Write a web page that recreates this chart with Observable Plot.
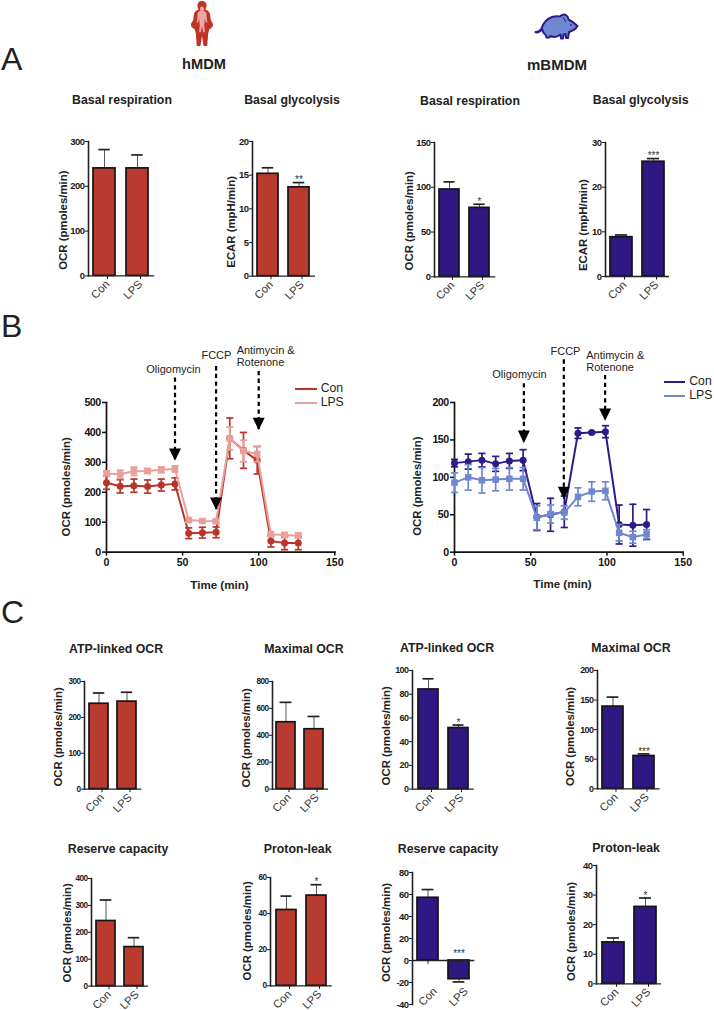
<!DOCTYPE html>
<html><head><meta charset="utf-8">
<script src="https://cdn.jsdelivr.net/npm/d3@7"></script>
<script src="https://cdn.jsdelivr.net/npm/@observablehq/plot@0.6"></script>
<style>
html,body{margin:0;padding:0;background:#fff}
#root{position:relative;width:714px;height:1010px;overflow:hidden;font-family:"Liberation Sans",Arial,sans-serif;color:#222;opacity:.999}
#root>svg{position:absolute;max-width:none}
.t{position:absolute;white-space:nowrap;transform:translate(-50%,-50%);font-weight:bold;line-height:1}
.letter{position:absolute;font-size:32px;line-height:1;transform:translateY(-50%);color:#222}
.lg{position:absolute;white-space:nowrap;font-size:12.2px;line-height:1;transform:translateY(-50%)}
.sw{position:absolute;height:1.7px}
g[aria-label="y-axis tick label"] text{letter-spacing:-.55px}
</style></head><body><div id="root"></div>
<script>
const categories = ["Con","LPS"];
const yLabelOCR = "OCR (pmoles/min)";
const yLabelECAR = "ECAR (mpH/min)";

// Panel A, human
const hRespVals=[240,240], hRespErr=[282,270], hRespStars=["",""];
const hGlyVals=[15.2,13.2], hGlyErr=[16.1,13.9], hGlyStars=["","**"];
// Panel A, mouse
const mRespVals=[97.5,77], mRespErr=[106,81], mRespStars=["","*"];
const mGlyVals=[8.8,25.7], mGlyErr=[9.3,26.4], mGlyStars=["","***"];
// Panel C, human
const hAtpVals=[238,244], hAtpErr=[268,270], hAtpStars=["",""];
const hMaxVals=[497,445], hMaxErr=[645,540], hMaxStars=["",""];
const hResVals=[242,145], hResErr=[320,180], hResStars=["",""];
const hLeakVals=[42,50], hLeakErr=[49.7,56], hLeakStars=["","*"];
// Panel C, mouse
const mAtpVals=[84,51.5], mAtpErr=[93,54], mAtpStars=["","*"];
const mMaxVals=[139,55.5], mMaxErr=[155,59], mMaxStars=["","***"];
const mResVals=[57,-17], mResErr=[64.5,-19.5], mResStars=["","***"], mResStarAt=[0,4];
const mLeakVals=[14,26], mLeakErr=[15.5,29], mLeakStars=["","*"];

// Panel B, time courses
const times=[0,9,18,27,36,45,54,63,72,81,90,99,108,117,126];
const hConOCR=[232,220,222,219,224,228,63,65,66,380,340,307,37,30,30];
const hConSD=[22,22,22,22,20,20,18,18,18,68,60,46,20,22,22];
const hLpsOCR=[263,260,270,271,275,278,107,104,103,380,338,328,60,57,55];
const hLpsSD=[8,14,14,8,10,10,8,6,6,38,36,26,8,8,8];
const mConOCR=[119,121,123,118,122,123,47,50,54,159,160,161,37,36,37];
const mConSD=[5,10,9,10,10,14,18,22,21,7,1,8,26,28,20];
const mLpsOCR=[93,100,96,97,98,98,46,51,53,74,81,82,26,20,24];
const mLpsSD=[13,17,17,15,15,15,16,12,9,12,13,12,11,8,6];

const hArrowTime=[45,72,100], hArrowTop=[582,620,604], hArrowTip=[305,141,408];
const mArrowTime=[45.5,71.7,98.8], mArrowTop=[225,257,236], mArrowTip=[146,71,175.5];

const hBar="#b93a2f", mBar="#2f1882";
const hCon="#b9352c", hLps="#e8a09c", mCon="#2f1a88", mLps="#6f87cf";
const FONT='"Liberation Sans",Arial,sans-serif';
const root=document.getElementById("root");

function add(html){root.insertAdjacentHTML("beforeend",html);}
function title(s,cx,cy,fs=12.3){add(`<div class="t" style="left:${cx}px;top:${cy}px;font-size:${fs}px">${s}</div>`);}

const downTri={draw(c){c.moveTo(0,0);c.lineTo(-6,-12.3);c.lineTo(6,-12.3);c.closePath();}};
const cap={draw(c){c.moveTo(-3.6,0);c.lineTo(3.6,0);}};

function barPanel(o){
  const ml=48,mt=22,mr=6,mb=40;
  const w=o.end-o.ax, h=o.bottom-o.top;
  const rows=categories.map((c,i)=>({c,v:o.vals[i],e:o.errs[i],s:o.stars[i],at:o.starAt?o.starAt[i]:o.errs[i]}));
  const inset=Math.max(0,(w/2*0.68-12)/2);
  const neg=o.dom[0]<0;
  const svg=Plot.plot({
    width:ml+w+mr,height:mt+h+mb,marginLeft:ml,marginRight:mr,marginTop:mt,marginBottom:mb,
    style:{background:"transparent",overflow:"visible",fontFamily:FONT,color:"#1a1a1a"},
    x:{type:"band",domain:categories,paddingInner:0.32,paddingOuter:0.16,align:0.5,label:null},
    y:{domain:o.dom,label:null},
    marks:[
      Plot.ruleX(rows,{x:"c",y1:"v",y2:"e",stroke:"#555",strokeWidth:1}),
      Plot.tickY(rows,{x:"c",y:"e",stroke:"#222",strokeWidth:1.7,insetLeft:inset,insetRight:inset}),
      Plot.barY(rows,{x:"c",y:"v",fill:o.fill,stroke:"#151515",strokeWidth:1.7}),
      Plot.ruleY([0],{stroke:"#222",strokeWidth:1.3}),
      Plot.frame({anchor:"left",stroke:"#222",strokeWidth:1.6}),
      Plot.axisY({ticks:o.ticks,tickSize:3,tickPadding:1,fontSize:o.tf||9.5,fontWeight:"bold",label:null,tickFormat:d=>String(d),strokeWidth:1}),
      neg?Plot.ruleX(categories,{x:d=>d,y1:0,y2:o.dom[0]*0.09,stroke:"#222",strokeWidth:1}):null,
      neg?Plot.axisX({tickSize:0,tickPadding:-15,dx:7,tickRotate:-45,fontSize:11.2,label:null,fill:"#333"})
         :Plot.axisX({tickSize:3.5,tickPadding:3,dx:3,tickRotate:-45,fontSize:11.2,label:null,fill:"#333",strokeWidth:1}),
      Plot.text(rows,{x:"c",y:"at",text:"s",dy:-2.5,fontSize:10,fill:"#333"}),
      Plot.text([o.label],{frameAnchor:"top-left",rotate:-90,dx:-o.lo,dy:o.lc-o.top,fontSize:11.4,fontWeight:"bold",fill:"#222",textAnchor:"middle",lineAnchor:"middle",text:d=>d})
    ]});
  svg.style.left=(o.ax-ml)+"px"; svg.style.top=(o.top-mt)+"px";
  root.appendChild(svg);
}

function linePanel(o){
  const ml=60,mt=70,mr=10,mb=50;
  const w=o.x150-o.ax,h=o.bottom-o.top;
  const con=times.map((t,i)=>({t,v:o.con[i],lo:o.con[i]-o.conSD[i],hi:o.con[i]+o.conSD[i]}));
  const lps=times.map((t,i)=>({t,v:o.lps[i],lo:o.lps[i]-o.lpsSD[i],hi:o.lps[i]+o.lpsSD[i]}));
  const series=(rows,col,sym,r)=>[
    Plot.ruleX(rows,{x:"t",y1:"lo",y2:"hi",stroke:col,strokeWidth:1.7}),
    Plot.dot(rows,{x:"t",y:"hi",symbol:cap,r:3,stroke:col,strokeWidth:1.7,fill:"none"}),
    Plot.dot(rows,{x:"t",y:"lo",symbol:cap,r:3,stroke:col,strokeWidth:1.7,fill:"none"}),
    Plot.line(rows,{x:"t",y:"v",stroke:col,strokeWidth:2,curve:"linear"}),
    Plot.dot(rows,{x:"t",y:"v",symbol:sym,r,fill:col,stroke:"none"})
  ];
  const arrows=o.arrT.map((t,i)=>({t,top:o.arrTop[i],tip:o.arrTip[i]}));
  const svg=Plot.plot({
    width:ml+w+mr,height:mt+h+mb,marginLeft:ml,marginRight:mr,marginTop:mt,marginBottom:mb,
    style:{background:"transparent",overflow:"visible",fontFamily:FONT,color:"#111"},
    x:{domain:[0,150],label:null},
    y:{domain:o.dom,label:null},
    marks:[
      Plot.frame({anchor:"left",stroke:"#111",strokeWidth:1.7}),
      Plot.frame({anchor:"bottom",stroke:"#111",strokeWidth:1.7}),
      Plot.axisY({ticks:o.ticks,tickSize:4,tickPadding:2,fontSize:10.6,fontWeight:"bold",label:null,strokeWidth:1.5}),
      Plot.axisX({ticks:[0,50,100,150],tickSize:4,tickPadding:2,fontSize:10.6,fontWeight:"bold",label:null,strokeWidth:1.5}),
      ...series(con,o.cCon,"circle",3.5),
      ...series(lps,o.cLps,"square",3.7),
      Plot.ruleX(arrows,{x:"t",y1:"top",y2:"tip",stroke:"#000",strokeWidth:2.2,strokeDasharray:"4.3,3.4"}),
      Plot.dot(arrows,{x:"t",y:"tip",symbol:downTri,r:3,fill:"#000",stroke:"none"}),
      Plot.text(o.centered,{x:"x",y:"y",text:"s",fontSize:11,fill:"#222"}),
      Plot.text(o.lefted,{x:"x",y:"y",text:"s",textAnchor:"start",fontSize:11,fill:"#222"}),
      Plot.text([yLabelOCR],{frameAnchor:"top-left",rotate:-90,dx:-o.lo,dy:o.lc-o.top,fontSize:11.4,fontWeight:"bold",fill:"#222",textAnchor:"middle",lineAnchor:"middle",text:d=>d}),
      Plot.text(["Time (min)"],{frameAnchor:"top-left",dx:o.timeX-o.ax,dy:584-o.top,fontSize:11.6,fontWeight:"bold",fill:"#222",textAnchor:"middle",lineAnchor:"middle",text:d=>d})
    ]});
  svg.style.left=(o.ax-ml)+"px"; svg.style.top=(o.top-mt)+"px";
  root.appendChild(svg);
}

const A=(x,e,a,b,vals,errs,stars,dom,ticks,fill,label,lo,lc,extra={})=>barPanel({ax:x,end:e,top:a,bottom:b,vals,errs,stars,dom,ticks,fill,label,lo,lc,...extra});

A(87.7,154,141.3,275.7,hRespVals,hRespErr,hRespStars,[0,300],[0,100,200,300],hBar,yLabelOCR,24.7,220);
A(252,315,141.3,276,hGlyVals,hGlyErr,hGlyStars,[0,20],[0,5,10,15,20],hBar,yLabelECAR,21,221.7);
A(434,495.3,141.7,276,mRespVals,mRespErr,mRespStars,[0,150],[0,50,100,150],mBar,yLabelOCR,25,220);
A(604.7,668.7,142,276,mGlyVals,mGlyErr,mGlyStars,[0,30],[0,10,20,30],mBar,yLabelECAR,21.7,224.7);

A(84.3,141.7,681.3,789,hAtpVals,hAtpErr,hAtpStars,[0,300],[0,100,200,300],hBar,yLabelOCR,26,736.7,{tf:8.2});
A(272.3,328.3,680.7,788.3,hMaxVals,hMaxErr,hMaxStars,[0,800],[0,200,400,600,800],hBar,yLabelOCR,26,737,{tf:8.2});
A(90.7,147.7,877.7,985.3,hResVals,hResErr,hResStars,[0,400],[0,100,200,300,400],hBar,yLabelOCR,23.7,932,{tf:8.2});
A(270,331.7,876.7,985,hLeakVals,hLeakErr,hLeakStars,[0,60],[0,20,40,60],hBar,yLabelOCR,23,930,{tf:8.2});
A(412,473.7,669.7,788.3,mAtpVals,mAtpErr,mAtpStars,[0,100],[0,20,40,60,80,100],mBar,yLabelOCR,26,735,{tf:9});
A(596.7,659.3,670,788.3,mMaxVals,mMaxErr,mMaxStars,[0,200],[0,50,100,150,200],mBar,yLabelOCR,26.7,736,{tf:9});
A(412,474.3,871.7,1003.7,mResVals,mResErr,mResStars,[-40,80],[-40,-20,0,20,40,60,80],mBar,yLabelOCR,25.7,931.7,{tf:9.5,starAt:mResStarAt});
A(595.7,660.7,865,983.3,mLeakVals,mLeakErr,mLeakStars,[0,40],[0,10,20,30,40],mBar,yLabelOCR,24.7,931,{tf:9.5});

linePanel({ax:105.7,x150:334,top:401.7,bottom:551.3,dom:[0,500],ticks:[0,100,200,300,400,500],
  con:hConOCR,conSD:hConSD,lps:hLpsOCR,lpsSD:hLpsSD,cCon:hCon,cLps:hLps,
  arrT:hArrowTime,arrTop:hArrowTop,arrTip:hArrowTip,lo:40,lc:486,timeX:218.7,
  centered:[{x:44,y:609,s:"Oligomycin"},{x:72.2,y:656,s:"FCCP"}],
  lefted:[{x:85.5,y:673,s:"Antimycin &"},{x:85.5,y:633,s:"Rotenone"}]});
linePanel({ax:454,x150:682.7,top:402,bottom:551.7,dom:[0,200],ticks:[0,50,100,150,200],
  con:mConOCR,conSD:mConSD,lps:mLpsOCR,lpsSD:mLpsSD,cCon:mCon,cLps:mLps,
  arrT:mArrowTime,arrTop:mArrowTop,arrTip:mArrowTip,lo:37,lc:485.7,timeX:562,
  centered:[{x:42.6,y:237,s:"Oligomycin"},{x:72.8,y:268,s:"FCCP"}],
  lefted:[{x:86.4,y:263,s:"Antimycin &"},{x:86.4,y:247,s:"Rotenone"}]});

[["A",59],["B",326],["C",612]].forEach(([s,y])=>add(`<div class="letter" style="left:1px;top:${y}px">${s}</div>`));
title("hMDM",204,64,14.6); title("mBMDM",557,64,15);
title("Basal respiration",122,100); title("Basal glycolysis",292,100);
title("Basal respiration",470,101); title("Basal glycolysis",640.7,100);
title("ATP-linked OCR",116,649); title("Maximal OCR",304,648.7);
title("Reserve capacity",118,849); title("Proton-leak",297.7,849);
title("ATP-linked OCR",447,648); title("Maximal OCR",631,648);
title("Reserve capacity",448,849); title("Proton-leak",626,848);

function legend(x1,x2,tx,y1,y2,c1,c2){
  add(`<div class="sw" style="left:${x1}px;width:${x2-x1}px;top:${y1}px;background:${c1}"></div><div class="lg" style="left:${tx}px;top:${y1}px">Con</div>`);
  add(`<div class="sw" style="left:${x1}px;width:${x2-x1}px;top:${y2}px;background:${c2}"></div><div class="lg" style="left:${tx}px;top:${y2}px">LPS</div>`);
}
legend(295,316.7,320.7,388,402,hCon,hLps);
legend(664.3,685.3,689.3,381,395.3,mCon,mLps);

// Organism icons
add(`<svg style="left:188px;top:0" width="30" height="48" viewBox="188 0 30 48">
<path d="M202 1c3 0 4.600 2 4.600 4.500 0 2-.6 3.200-1.400 4 3 1 4.600 2.600 5 5.500l.6 5 2 3.600c.6 1.200.2 3-1 4l-2.600 1.800-1 4-1 12.500h-3.600l-1.600-10-1.600 10h-3.600l-1-12.500-1-4-2.600-1.800c-1.300-1-1.700-2.800-1-4l2-3.600.6-5c.4-2.900 2-4.500 5-5.500-.8-.8-1.400-2-1.400-4C197.400 3 199 1 202 1z" fill="#bf3424"/>
<path d="M202 6.500c1.300 0 2 1 2 2.200 0 1-.4 1.700-.8 2.200 1.800.4 3 1 3.300 2.800l.2 5 .8 4c-.7.3-1.200 0-1.700-1l-1-3-.5 7 .6 6.500h-1.600l-1.300-6-1.300 6h-1.600l.6-6.500-.5-7-1 3c-.5 1-1 1.300-1.700 1l.8-4 .2-5c.3-1.800 1.500-2.400 3.300-2.800-.4-.5-.8-1.200-.8-2.200 0-1.200.7-2.200 2-2.200z" fill="#eea7a7"/>
</svg>`);
add(`<svg style="left:532px;top:10px" width="50" height="32" viewBox="532 10 50 32">
<path d="M535.500 32c3 0 4.500-1 6-3.500 1.800-5.500 6-10 10.500-11.500 3-1 6-1 8-.5 1.500-2 4.500-2.500 6.500-1 1.500 1 1.800 2 2 4 3 1.500 6.500 4 9 6.500-1.500 2.500-5 5-8.500 6l-1 6h-2l-.5-4-2 .5-.5 4h-2l-.5-4c-3 2.500-7 3-10 1.500l-1 1.500h-3l-.5-2c-2-1.500-3.500-4-4-6.500-1.500 2.500-3.500 3.500-6 3.500z" fill="#7088d2" stroke="#2f1a88" stroke-width="2" stroke-linejoin="round"/>
<circle cx="571" cy="25" r="1" fill="#2f1a88"/>
<path d="M563 17l3 5" stroke="#2f1a88" stroke-width="1"/>
</svg>`);
</script></body></html>
